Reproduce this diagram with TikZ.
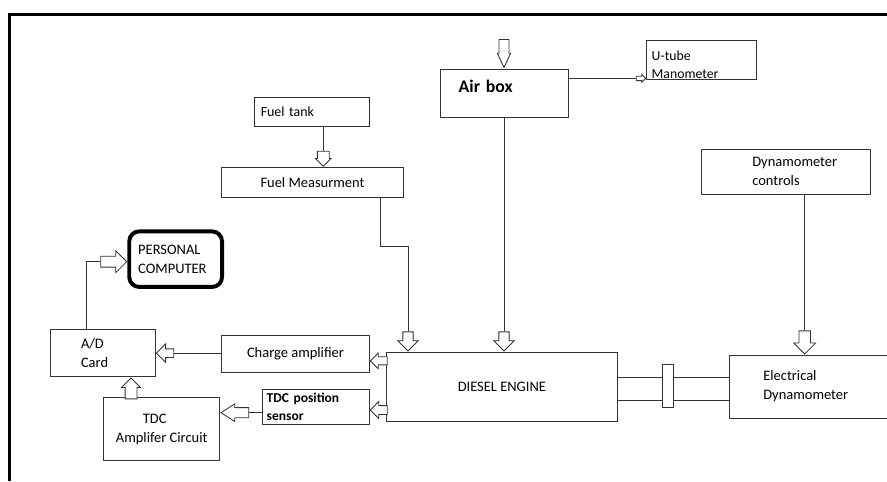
\documentclass[tikz,border=0pt]{standalone}
\usepackage{fontspec}
\setmainfont{Carlito}
\usepackage{tikz}
\usetikzlibrary{arrows.meta, positioning, shapes.arrows, calc}

\begin{document}
\begin{tikzpicture}[
    box/.style={rectangle, draw=black!80, line width=0.7pt, inner sep=0pt, font=\fontsize{10.3}{13.5}\selectfont},
    lbox/.style={box, align=left},
    blk/.style n args={4}{single arrow, draw=black!80, fill=white, line width=0.6pt, inner xsep=0pt, inner ysep=#2, single arrow head extend=#3, minimum height=#1, minimum width=0pt, rotate=#4, anchor=tip},
    link/.style={draw=black!80, line width=0.7pt}
  ]

  \useasboundingbox (0,0) rectangle (22.175,12.025);
  \clip (0,0) rectangle (22.175,12.025);

  \draw[line width=1.9pt] (0.2375,0) |- (22.3,11.6575);

  \node[lbox, minimum width=3.2cm, minimum height=1.22cm, text width=2.265cm, text height=0.3cm, text depth=0.33cm, font=\fontsize{12.6}{15}\selectfont\bfseries] (airbox) at (12.6, 9.69) {Air box};
  \node[lbox, minimum width=2.75cm, minimum height=0.98cm, text width=2.5cm, font=\fontsize{9.8}{13}\selectfont] (utube) at (17.5425, 10.534) {\rule{0pt}{0.5cm}U-tube\\Manometer};
  \node[lbox, minimum width=2.89cm, minimum height=0.72cm, text width=2.57cm, font=\fontsize{9.9}{13}\selectfont] (fueltank) at (7.804, 9.234) {Fuel tank};
  \node[box, minimum width=4.54cm, minimum height=0.76cm] (fuelmeas) at (7.8125, 7.4625) {Fuel Measurment};
  \node[lbox, minimum width=4.215cm, minimum height=1.125cm, text width=1.685cm] (dyncon) at (19.65, 7.73) {Dynamometer\\controls};
  \node[lbox, draw=black, line width=2.8pt, rounded corners=0.25cm, minimum width=2.32cm, minimum height=1.39cm, text width=1.87cm] (pc) at (4.391, 5.546) {PERSONAL\\COMPUTER};
  \node[lbox, minimum width=2.615cm, minimum height=1.19cm, text width=1.1cm] (adcard) at (2.575, 3.196) {A/D\\Card};
  \node[box, minimum width=3.69cm, minimum height=0.935cm] (chargeamp) at (7.3875, 3.175) {Charge amplifier};
  \node[lbox, minimum width=2.68cm, minimum height=0.865cm, text width=2.445cm, font=\fontsize{9.6}{12.6}\selectfont\bfseries] (tdcsensor) at (7.891, 1.85) {TDC position\\sensor};
  \node[lbox, minimum width=2.9cm, minimum height=1.565cm] (tdcamp) at (4.0425, 1.3) {\hspace*{0.675cm}TDC\\Amplifer Circuit};
  \node[box, minimum width=5.78cm, minimum height=1.745cm] (engine) at (12.546, 2.3525) {DIESEL ENGINE};
  \node[lbox, minimum width=4.75cm, minimum height=1.575cm, text width=3.05cm] (elecdyn) at (20.6075, 2.3625) {Electrical\\Dynamometer};

  \draw[link] (engine.east |- 0,2.5875) -- (elecdyn.west |- 0,2.5875);
  \draw[link] (engine.east |- 0,2.0075) -- (elecdyn.west |- 0,2.0075);
  \node[box, fill=white, minimum width=0.27cm, minimum height=1.06cm] (coupling) at (16.6975, 2.379) {};

  \node[blk={0.7cm}{0.116cm}{0.04cm}{-90}, single arrow tip angle=50] (airin) at (airbox.north) {};
  \node[blk={0.235cm}{0.044cm}{0.044cm}{0}] (toutube) at ([yshift=0.375cm]airbox.east -| utube.west) {};
  \node[blk={0.375cm}{0.1375cm}{0.046cm}{-90}] (fuelin) at ([xshift=0.27cm]fuelmeas.north) {};
  \node[blk={0.475cm}{0.1175cm}{0.125cm}{-90}] (fmeng) at (10.2,0 |- engine.north) {};
  \node[blk={0.475cm}{0.1175cm}{0.125cm}{-90}] (abeng) at (airbox.south |- engine.north) {};
  \node[blk={0.575cm}{0.134cm}{0.129cm}{-90}] (dcdyn) at ([xshift=0.4675cm]dyncon.south |- elecdyn.north) {};
  \node[blk={0.4225cm}{0.091cm}{0.096cm}{180}] (engca) at (chargeamp.east |- 0,3.005) {};
  \node[blk={0.4225cm}{0.1cm}{0.1cm}{180}] (engts) at (tdcsensor.east |- 0,1.775) {};
  \node[blk={0.435cm}{0.096cm}{0.125cm}{180}] (caad) at (adcard.east) {};
  \node[blk={0.6925cm}{0.116cm}{0.0925cm}{180}, single arrow tip angle=65] (tsta) at (tdcamp.east |- 0,1.7075) {};
  \node[blk={0.52cm}{0.1375cm}{0.0875cm}{90}] (taad) at (3.275,0 |- adcard.south) {};
  \node[blk={0.65cm}{0.125cm}{0.1375cm}{0}] (adpc) at (pc.west |- 0,5.4825) {};

  \foreach \a/\b in {fueltank/fuelin, airbox/abeng, dyncon/dcdyn} {
    \draw[link] (\b.tail |- \a.south) -- (\b.tail);
  }
  \foreach \a/\b in {chargeamp/caad, tdcsensor/tsta} {
    \draw[link] (\b.tail -| \a.west) -- (\b.tail);
  }
  \draw[link] (airbox.east |- toutube.tail) -- (toutube.tail);
  \draw[link] (9.5,0 |- fuelmeas.south) -- (9.5,5.875) -| (fmeng.tail);
  \draw[link] (2.15,0 |- adcard.north) |- (adpc.tail);

\end{tikzpicture}
\end{document}
